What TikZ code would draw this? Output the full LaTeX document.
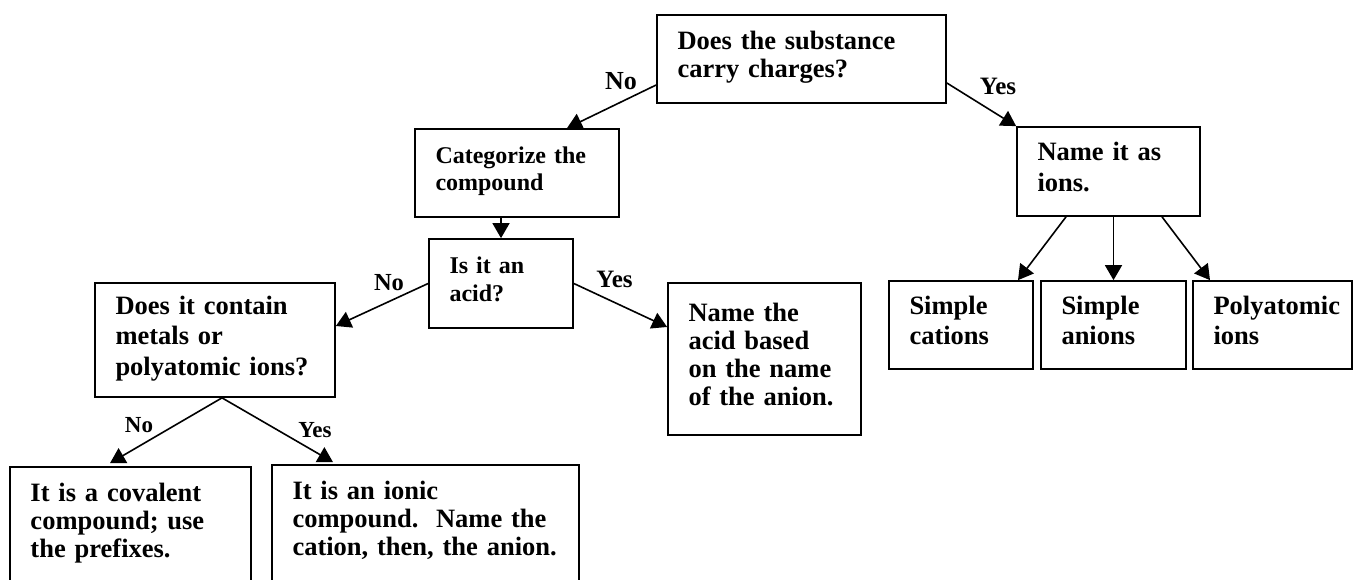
\documentclass[tikz,border=0pt]{standalone}
\usepackage{fontspec}
\setmainfont{Liberation Serif}
\usetikzlibrary{arrows.meta,positioning,calc}

\begin{document}
\begin{tikzpicture}[
  x=1pt, y=-1pt,
  box/.style={draw, line width=1.7pt, inner xsep=20.5pt, inner ysep=0pt,
    align=left, font=\fontsize{26.5}{28}\selectfont\bfseries,
    execute at end node=\strut},
  tallbox/.style={box, font=\fontsize{26.5}{30.5}\selectfont\bfseries},
  smallbox/.style={box, font=\fontsize{24}{27.5}\selectfont\bfseries},
  arr/.style={-{Triangle[length=15pt, width=17pt]}, line width=1.6pt},
  lab/.style={font=\fontsize{#1}{#1}\selectfont\bfseries, inner sep=0pt},
  lab/.default=25,
]
\useasboundingbox (0,0) rectangle (1354,580);
\clip (0,0) rectangle (1354,580);
% question boxes
\node[box, text width=248pt, minimum height=88pt] (charge) at (801.5,59) {Does the substance\\carry charges?};
\node[smallbox, text width=163pt, minimum height=88pt] (categ) at (517,173) {Categorize the\\compound};
\node[smallbox, text width=103pt, minimum height=89pt] (acid) at (501,283.5) {Is it an\\acid?};
\node[tallbox, text width=199pt, minimum height=114pt] (metal) at (215,340) {Does it contain\\metals or\\polyatomic ions?};
% answers
\node[box, text width=152pt, minimum height=152pt] (nameacid) at (764.5,359) {Name the\\acid based\\on the name\\of the anion.};
\node[box, text width=200pt, minimum height=116pt] (covalent) at (130.5,525) {It is a covalent\\compound; use\\the prefixes.};
\node[box, text width=266pt, minimum height=116pt] (ionic) at (425.5,523) {It is an ionic\\compound.\ \ Name the\\cation, then, the anion.};
\node[tallbox, text width=142pt, minimum height=89pt] (ions) at (1108.5,171.5) {Name it as\\ions.};
\node[tallbox, text width=103pt, minimum height=88pt] (cations) at (961,325) {Simple\\cations};
\node[tallbox, text width=104pt, minimum height=88pt] (anions) at (1113.5,325) {Simple\\anions};
\node[tallbox, text width=118pt, minimum height=88pt] (polyions) at (1272.5,325) {Polyatomic\\ions};
% connectors
\draw[arr] ([yshift=-26pt]charge.west) -- ([xshift=50pt]categ.north);
\draw[arr] ([yshift=-24pt]charge.east) -- (ions.north west);
\draw[arr] (categ.south -| acid.north) -- (acid.north);
\draw[arr] (acid.west) -- ([yshift=14pt]metal.east);
\draw[arr] (acid.east) -- ([yshift=32pt]nameacid.west);
\draw[arr] ([xshift=7pt]metal.south) -- ([xshift=-20.5pt, yshift=3pt]covalent.north);
\draw[arr] ([xshift=7pt]metal.south) -- ([xshift=-92.5pt, yshift=2pt]ionic.north);
\draw[arr] ([xshift=-42.5pt]ions.south) -- ([xshift=57pt]cations.north);
\draw[arr] (ions.south -| anions.north) -- (anions.north);
\draw[arr] ([xshift=53.5pt]ions.south) -- ([xshift=-62.5pt]polyions.north);
% branch labels
\node[lab=26] (nocharge) at (621,81) {No};
\node[lab] (yescharge) at (998,86) {Yes};
\node[lab=24.5] (noacid) at (389,283) {No};
\node[lab] (yesacid) at (614.5,279) {Yes};
\node[lab=23] (nometal) at (139,425) {No};
\node[lab=23] (yesmetal) at (315,430) {Yes};
\end{tikzpicture}
\end{document}
